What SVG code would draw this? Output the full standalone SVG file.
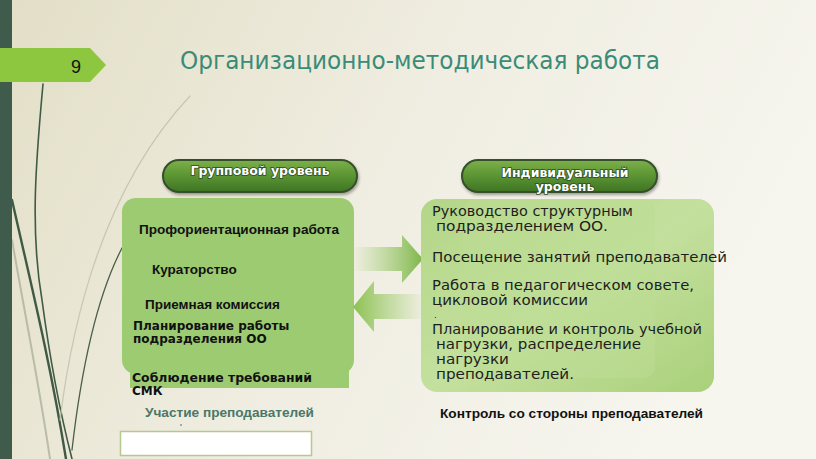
<svg xmlns="http://www.w3.org/2000/svg" width="816" height="459" viewBox="0 0 816 459">
<defs>
<linearGradient id="bg" x1="0" y1="0" x2="1" y2="0.3">
<stop offset="0" stop-color="#e2dec6"/>
<stop offset="0.55" stop-color="#f0eee2"/>
<stop offset="1" stop-color="#f6f5ee"/>
</linearGradient>
<linearGradient id="pill" x1="0" y1="0" x2="0" y2="1">
<stop offset="0" stop-color="#7cb04a"/>
<stop offset="0.5" stop-color="#5b9433"/>
<stop offset="1" stop-color="#3f7424"/>
</linearGradient>
<linearGradient id="rbox" x1="0" y1="0" x2="1" y2="1">
<stop offset="0" stop-color="#b3d686"/>
<stop offset="0.5" stop-color="#c4e09e"/>
<stop offset="1" stop-color="#a9d07a"/>
</linearGradient>
<linearGradient id="arR" x1="0" y1="0" x2="1" y2="0">
<stop offset="0" stop-color="#9dcb6a" stop-opacity="0"/>
<stop offset="1" stop-color="#7db648"/>
</linearGradient>
<linearGradient id="arL" x1="1" y1="0" x2="0" y2="0">
<stop offset="0" stop-color="#9dcb6a" stop-opacity="0"/>
<stop offset="1" stop-color="#8cc152"/>
</linearGradient>
<filter id="sh" x="-10%" y="-20%" width="120%" height="160%">
<feDropShadow dx="1" dy="2" stdDeviation="1.5" flood-color="#000" flood-opacity="0.35"/>
</filter>
<style>
.pilltxt{font-family:"DejaVu Sans",sans-serif;font-weight:bold;font-size:12.5px;fill:#fff;text-anchor:middle;paint-order:stroke;stroke:#2d4d1e;stroke-width:1.6px}
.lb{font-family:"Liberation Sans",Arial,sans-serif;font-weight:bold;font-size:13.5px;fill:#111}
.cg{font-family:"DejaVu Sans",sans-serif;font-weight:bold;font-size:12px;fill:#111}
.rt{font-family:"DejaVu Sans",sans-serif;font-size:13.5px;fill:#1e1e1e}
.grass{fill:none;stroke-linecap:round}
</style>
</defs>

<rect width="816" height="459" fill="url(#bg)"/>

<!-- decorative grass -->
<g id="grass">
<path class="grass" d="M43 84 C36 160 30 230 42 300 C50 360 62 420 72 459" stroke="#3f5a45" stroke-width="1.6"/>
<path class="grass" d="M12 200 C30 280 50 360 66 459" stroke="#3f5a45" stroke-width="2.4"/>
<path class="grass" d="M12 240 C26 320 40 390 50 459" stroke="#9aa08a" stroke-width="2" opacity="0.6"/>
<path class="grass" d="M122 248 C95 300 80 380 72 450" stroke="#4a5e48" stroke-width="1.3"/>
<path class="grass" d="M190 96 C130 160 80 260 60 420" stroke="#c9c6b2" stroke-width="1.2"/>
</g>

<rect id="sidebar" x="0" y="0" width="12" height="459" fill="#3f5b4c"/>

<g id="slide-number">
<polygon points="0,48 90,48 106,65 90,82 0,82" fill="#8dc63f"/>
<text x="76" y="73" font-family="'Liberation Sans',Arial,sans-serif" font-size="18" fill="#111" text-anchor="middle">9</text>
</g>

<text id="title" x="180" y="68.5" font-family="'DejaVu Sans',sans-serif" font-size="24" fill="#3a8c78" textLength="480" lengthAdjust="spacingAndGlyphs">Организационно-методическая работа</text>

<g id="group-level">
<rect x="163" y="160" width="194" height="32" rx="16" fill="url(#pill)" stroke="#34502a" stroke-width="2" filter="url(#sh)"/>
<text class="pilltxt" x="260" y="175">Групповой уровень</text>
</g>

<g id="group-box">
<rect x="122" y="198" width="232" height="176" rx="14" fill="#9dcb72"/>
<rect x="130" y="368" width="219" height="20" fill="#9dcb72"/>
<text class="lb" x="139" y="234" textLength="200" lengthAdjust="spacingAndGlyphs">Профориентационная работа</text>
<text class="lb" x="152" y="274">Кураторство</text>
<text class="lb" x="145" y="309">Приемная комиссия</text>
<text class="cg" x="133" y="330">Планирование работы</text>
<text class="cg" x="133" y="343">подразделения ОО</text>
<text class="cg" x="132" y="382" textLength="180" lengthAdjust="spacingAndGlyphs">Соблюдение требований</text>
<text class="cg" x="132" y="395">СМК</text>
</g>

<g id="connectors">
<polygon points="352,247 402,247 402,235 423,259 402,283 402,271 352,271" fill="url(#arR)"/>
<polygon points="426,294 374,294 374,281 353,307 374,332 374,319 426,319" fill="url(#arL)"/>
</g>

<g id="individual-level">
<rect x="462" y="160" width="195" height="32" rx="16" fill="url(#pill)" stroke="#34502a" stroke-width="2" filter="url(#sh)"/>
<text class="pilltxt" x="565" y="177">Индивидуальный</text>
<text class="pilltxt" x="565" y="191">уровень</text>
</g>

<g id="individual-box">
<rect x="421" y="199" width="293" height="193" rx="16" fill="url(#rbox)"/>
<rect x="463" y="199" width="192" height="179" rx="12" fill="#bcdc93" opacity="0.55"/>
<text class="rt" x="432" y="216" textLength="201" lengthAdjust="spacingAndGlyphs">Руководство структурным</text>
<text class="rt" x="436" y="231" textLength="172" lengthAdjust="spacingAndGlyphs">подразделением ОО.</text>
<text class="rt" x="432" y="262" textLength="295" lengthAdjust="spacingAndGlyphs">Посещение занятий преподавателей</text>
<text class="rt" x="432" y="290" textLength="262" lengthAdjust="spacingAndGlyphs">Работа в педагогическом совете,</text>
<text class="rt" x="432" y="305" textLength="156" lengthAdjust="spacingAndGlyphs">цикловой комиссии</text>
<text class="rt" x="434" y="318" style="font-size:9px">.</text>
<text class="rt" x="432" y="334" textLength="270" lengthAdjust="spacingAndGlyphs">Планирование и контроль учебной</text>
<text class="rt" x="436" y="349" textLength="205" lengthAdjust="spacingAndGlyphs">нагрузки, распределение</text>
<text class="rt" x="436" y="364" textLength="73" lengthAdjust="spacingAndGlyphs">нагрузки</text>
<text class="rt" x="436" y="379" textLength="138" lengthAdjust="spacingAndGlyphs">преподавателей.</text>
</g>

<text id="teachers" class="lb" x="145" y="417" style="fill:#4a7868" textLength="169" lengthAdjust="spacingAndGlyphs">Участие преподавателей</text>
<circle cx="181" cy="425" r="0.8" fill="#555"/>
<rect id="blank-box" x="120.5" y="431.5" width="191" height="24" fill="#fff" stroke="#b5c88f" stroke-width="1.5"/>

<text id="control" class="lb" x="440" y="418" textLength="263" lengthAdjust="spacingAndGlyphs">Контроль со стороны преподавателей</text>
</svg>
